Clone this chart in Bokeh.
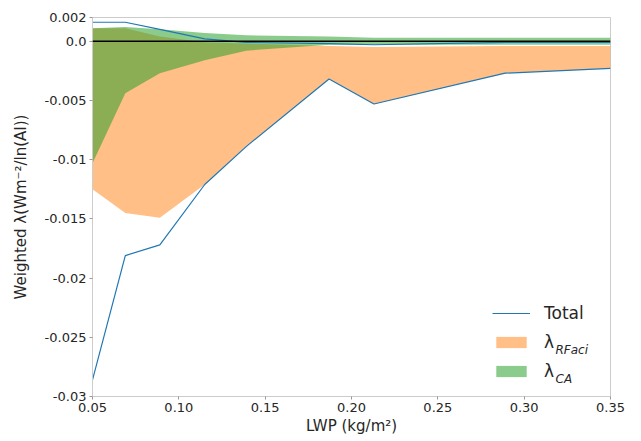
from bokeh.plotting import figure
from bokeh.models import Span, Legend, LegendItem, Label, FixedTicker, Range1d
from bokeh.embed import file_html
from bokeh.resources import INLINE

# ---- data ----
lwp = [0.05, 0.069, 0.089, 0.115, 0.139, 0.187, 0.213, 0.289, 0.35]
total = [-0.0286, -0.0181, -0.0172, -0.0121, -0.0089, -0.0032, -0.0053, -0.0027, -0.0023]
total_upper = [0.0016, 0.0016, 0.0010, 0.0002, -0.0001, -0.0002, -0.0003, -0.0001, -0.0001]
rfaci_top = [0.0011, 0.0011, 0.0004, -0.0001, -0.0002, -0.0004, -0.0005, -0.0004, -0.0004]
rfaci_bottom = [-0.0125, -0.0145, -0.0149, -0.0121, -0.0089, -0.0032, -0.0053, -0.0027, -0.0023]
ca_top = [0.0011, 0.0012, 0.0010, 0.0007, 0.0005, 0.0004, 0.0003, 0.0003, 0.0003]
ca_bottom = [-0.0103, -0.0044, -0.0027, -0.0016, -0.0008, -0.0003, -0.0003, -0.0003, -0.0003]

x_ticks = [0.05, 0.10, 0.15, 0.20, 0.25, 0.30, 0.35]
x_tick_labels = ["0.05", "0.10", "0.15", "0.20", "0.25", "0.30", "0.35"]
y_ticks = [0.002, 0.0, -0.005, -0.01, -0.015, -0.02, -0.025, -0.03]
y_tick_labels = ["0.002", "0.0", "-0.005", "-0.01", "-0.015", "-0.02", "-0.025", "-0.03"]

FONT = "DejaVu Sans"

p = figure(frame_width=518, frame_height=379,
           min_border_left=92, min_border_top=17, min_border_right=23, min_border_bottom=10,
           x_range=Range1d(0.05, 0.35), y_range=Range1d(-0.03, 0.002),
           output_backend="svg", toolbar_location=None,
           background_fill_color="white", border_fill_color="white")
p.grid.visible = False
p.outline_line_color = "#cccccc"

orange = p.varea(x=lwp, y1=rfaci_bottom, y2=rfaci_top, fill_color="#ff7f0e", fill_alpha=0.5)
green = p.varea(x=lwp, y1=ca_bottom, y2=ca_top, fill_color="#2ca02c", fill_alpha=0.55)
p.add_layout(Span(location=0, dimension="width", line_color="black", line_width=1.5))
tot = p.line(lwp, total, line_color="#1f77b4", line_width=1.2)
p.line(lwp, total_upper, line_color="#1f77b4", line_width=1.2)

for ax in (p.xaxis[0], p.yaxis[0]):
    ax.axis_line_color = "#cccccc"
    ax.major_tick_line_color = "#999999"
    ax.major_tick_out = 3
    ax.major_tick_in = 0
    ax.minor_tick_line_color = None
    ax.major_label_text_font = FONT
    ax.major_label_text_font_size = "13px"
    ax.major_label_text_color = "#262626"
    ax.axis_label_text_font = FONT
    ax.axis_label_text_font_size = "15px"
    ax.axis_label_text_font_style = "normal"
    ax.axis_label_text_color = "#262626"
    ax.major_label_standoff = 3

p.xaxis.ticker = FixedTicker(ticks=x_ticks)
p.xaxis.major_label_overrides = dict(zip(x_ticks, x_tick_labels))
p.yaxis.ticker = FixedTicker(ticks=y_ticks)
p.yaxis.major_label_overrides = dict(zip(y_ticks, y_tick_labels))
p.xaxis.axis_label = "LWP (kg/m²)"
p.yaxis.axis_label = "Weighted λ(Wm⁻²/ln(AI))"
p.xaxis.axis_label_standoff = 2
p.yaxis.axis_label_standoff = 12

legend = Legend(items=[LegendItem(label="Total", renderers=[tot]),
                       LegendItem(label="λ", renderers=[orange]),
                       LegendItem(label="λ", renderers=[green])],
                location=(400, 14), border_line_color=None, background_fill_alpha=0,
                padding=0, margin=0, spacing=7, glyph_width=38, glyph_height=14,
                label_height=22, label_standoff=14,
                label_text_font=FONT, label_text_font_size="17px", label_text_color="#262626")
p.add_layout(legend)

for txt, yy in (("RFaci", 47), ("CA", 18)):
    p.add_layout(Label(x=463, y=yy, x_units="screen", y_units="screen", text=txt,
                       text_font=FONT, text_font_size="12px", text_font_style="italic",
                       text_color="#262626", text_baseline="middle"))

open("out.html", "w").write(file_html(p, INLINE))
